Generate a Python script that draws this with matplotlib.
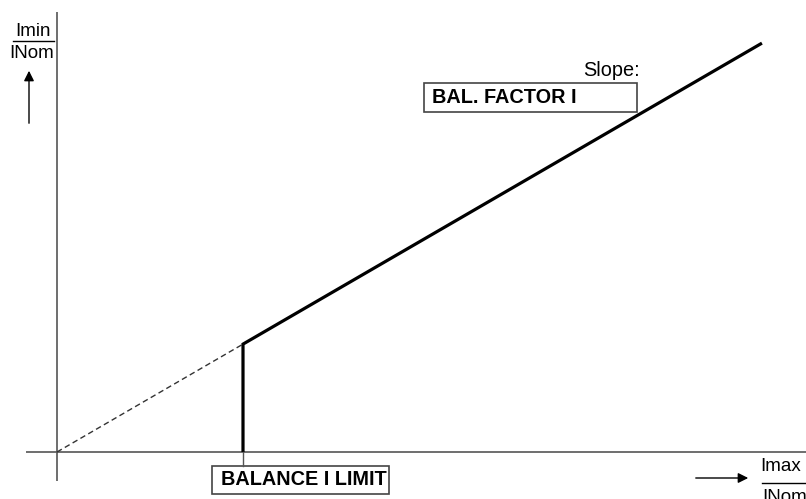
import matplotlib
matplotlib.use("Agg")
import matplotlib.pyplot as plt
from matplotlib.patches import FancyArrowPatch

plt.rcParams['font.family'] = ['Liberation Sans', 'DejaVu Sans']

# characteristic data (units of I/INom, equal scales)
balance_limit = 1.0          # Imax/INom at BALANCE I LIMIT
slope = 0.58                 # BAL. FACTOR I
x_end = 3.79                 # end of characteristic
dashed_x = [0.0, balance_limit]
dashed_y = [0.0, slope * balance_limit]
solid_x = [balance_limit, balance_limit, x_end]
solid_y = [0.0, slope * balance_limit, slope * x_end]

W, H = 806, 499
ox, oy, s = 57, 452, 186.0   # origin pixel and pixels per unit (layout only)
FS = 14.3
FS_AX = 13.5

def px(x, y):
    return ((x - ox) / s, (oy - y) / s)

fig = plt.figure(figsize=(W / 100, H / 100), dpi=100)
ax = fig.add_axes([0, 0, 1, 1])
ax.set_xlim(-ox / s, (W - ox) / s)
ax.set_ylim(-(H - oy) / s, oy / s)
ax.axis('off')

axc = '#555555'
# axes lines
x0, _ = px(26, 0)
ax.plot([x0, (W - ox) / s], [0, 0], color=axc, lw=1.2, solid_capstyle='butt')
_, ytop = px(0, 12)
_, ybot = px(0, 481)
ax.plot([0, 0], [ybot, ytop], color=axc, lw=1.2, solid_capstyle='butt')

# characteristic
ax.plot(dashed_x, dashed_y, color='#333333', lw=1.0, ls=(0, (4, 2.5)))
ax.plot(solid_x, solid_y, color='black', lw=2.3, solid_joinstyle='miter', solid_capstyle='butt')

# connector from axis to box
_, yb = px(0, 466)
ax.plot([balance_limit, balance_limit], [yb, 0], color=axc, lw=1.0)

# boxes
def box(x1, y1, x2, y2):
    a, b = px(x1, y2)
    c, d = px(x2, y1)
    ax.add_patch(plt.Rectangle((a, b), c - a, d - b, fill=False, ec='#444444', lw=1.2))

box(212, 466, 389, 494)
tx, ty = px(221, 485)
ax.text(tx, ty, 'BALANCE I LIMIT', fontsize=FS, fontweight='bold', ha='left', va='baseline')

box(424, 83, 637, 112)
tx, ty = px(432, 103)
ax.text(tx, ty, 'BAL. FACTOR I', fontsize=FS, fontweight='bold', ha='left', va='baseline')

tx, ty = px(640, 76)
ax.text(tx, ty, 'Slope:', fontsize=FS, ha='right', va='baseline')

# y-axis label (fraction)
tx, ty = px(33, 36)
ax.text(tx, ty, 'Imin', fontsize=FS_AX, ha='center', va='baseline')
a, b = px(13, 41)
c, _ = px(54, 41)
ax.plot([a, c], [b, b], color='black', lw=1.0)
tx, ty = px(32, 58)
ax.text(tx, ty, 'INom', fontsize=FS_AX, ha='center', va='baseline')
ax.add_patch(FancyArrowPatch(px(29, 126), px(29, 68), arrowstyle='-|>,head_length=6,head_width=3',
                             color='black', lw=1.0, mutation_scale=1))

# x-axis label (fraction)
tx, ty = px(781, 471)
ax.text(tx, ty, 'Imax', fontsize=FS_AX, ha='center', va='baseline')
a, b = px(762, 483)
c, _ = px(806, 483)
ax.plot([a, c], [b, b], color='black', lw=1.0)
tx, ty = px(762, 489)
ax.text(tx, ty, 'INom', fontsize=FS_AX, ha='left', va='top')
ax.add_patch(FancyArrowPatch(px(693, 478), px(751, 478), arrowstyle='-|>,head_length=6,head_width=3',
                             color='black', lw=1.0, mutation_scale=1))

fig.savefig('out.png', dpi=100)
